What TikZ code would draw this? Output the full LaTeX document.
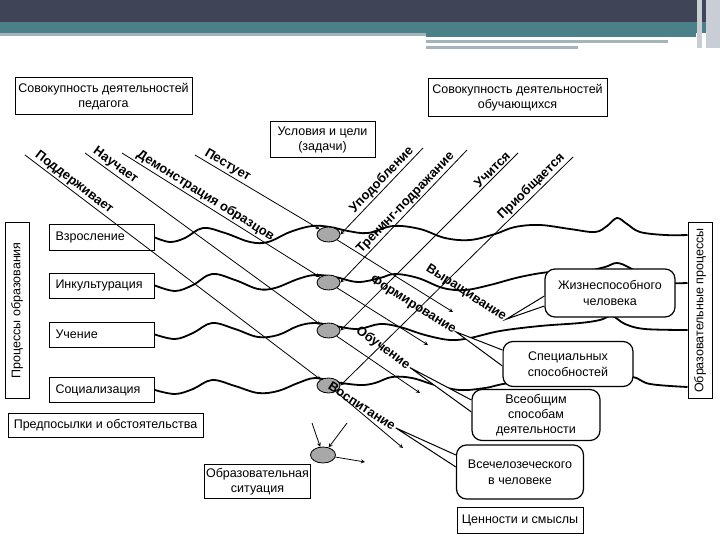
\documentclass[tikz,border=0pt]{standalone}
\usepackage{fontspec}
\setmainfont{Liberation Sans}
\usetikzlibrary{shapes.geometric}
\definecolor{hdrdark}{HTML}{3F4556}
\definecolor{hdrteal}{HTML}{4A8189}
\definecolor{hdrgray}{HTML}{A3B5B9}
\definecolor{hdrlight}{HTML}{C9CDD6}
\definecolor{situgray}{HTML}{A8A8A8}
\begin{document}
\begin{tikzpicture}[x=1pt, y=-1pt, >=stealth,
  box/.style={draw, line width=1pt, fill=white, inner sep=2pt, align=center, font=\fontsize{12.5}{15}\selectfont},
  rbox/.style={box, rounded corners=10pt, line width=1.2pt, font=\fontsize{12.5}{16}\selectfont},
  proc/.style={box, minimum width=105pt, minimum height=25pt, text width=93pt, align=left},
  wave/.style={line width=1.8pt},
  ray/.style={->, line width=0.8pt},
  sit/.style={ellipse, draw, line width=0.8pt, fill=situgray, minimum width=23pt, minimum height=15pt, inner sep=0pt},
  lbl/.style={font=\fontsize{13}{15}\selectfont\bfseries, inner sep=1.5pt},
  tail/.style={draw, fill=white, line width=1pt}]
  \useasboundingbox (0,0) rectangle (720,540);
  % header
  \fill[hdrdark] (0,0) rectangle (720,22);
  \fill[hdrteal] (0,22) rectangle (720,33);
  \fill[hdrgray] (0,33) rectangle (426,36);
  \fill[hdrteal] (426,33) rectangle (696,37);
  \fill[hdrgray] (426,40) rectangle (668,43);
  \fill[hdrgray] (426,46) rectangle (578,49);
  \fill[hdrlight] (697,0) rectangle (702,48);
  \fill[hdrlight] (706,0) rectangle (720,48);
  % boxes
  \node[box, minimum width=177pt, minimum height=37pt] (pedag) at (103.5,96.5) {Совокупность деятельностей\\педагога};
  \node[box, minimum width=105pt, minimum height=36pt] (uslov) at (322.5,140) {Условия и цели\\(задачи)};
  \node[box, minimum width=179pt, minimum height=38pt] (uchen) at (517.5,97.5) {Совокупность деятельностей\\обучающихся};
  \node[box, rotate=90, minimum width=175pt, minimum height=24pt] (procl) at (17,310.5) {Процессы образования};
  \node[box, rotate=90, minimum width=175pt, minimum height=24pt] (procr) at (700,310.5) {Образовательные процессы};
  \foreach \nm/\txt/\yy in {vzr/Взросление/237.5, ink/Инкультурация/285.5, uch/Учение/334.5, soc/Социализация/390}
    \node[proc] (\nm) at (102,\yy) {\txt};
  \node[box, minimum width=195pt, minimum height=24pt] (predp) at (105.5,425) {Предпосылки и обстоятельства};
  \node[box, minimum width=105pt, minimum height=34pt] (situ) at (257.5,481.5) {Образовательная\\ситуация};
  \node[box, minimum width=126pt, minimum height=26pt] (cenn) at (520,520) {Ценности и смыслы};
  % processes
  \draw[wave] plot[smooth, tension=0.6] coordinates {(vzr.east) (170,242) (185,238) (203,228) (225,233) (250,242) (268,242) (290,232) (312,226) (330,227) (348,231) (368,233) (393,226) (420,229) (445,238) (470,240) (495,234) (515,227) (540,225) (570,229) (595,232) (607,226) (617,218) (627,224) (640,232) (665,235) (procr.north |- 0,235)};
  \draw[wave] plot[smooth, tension=0.6] coordinates {(ink.east) (175,291) (193,285) (212,274) (235,280) (258,289) (275,288) (298,279) (315,275) (335,277) (358,282) (380,278) (395,274) (418,278) (443,288) (465,290) (490,285) (520,277) (550,272) (585,271) (605,267) (617,263) (630,268) (650,280) (670,283) (procr.north |- 0,283)};
  \draw[wave] plot[smooth, tension=0.6] coordinates {(uch.east) (175,339) (193,333) (212,323) (235,329) (258,337) (278,335) (298,326) (315,323) (335,326) (358,329) (380,324) (400,327) (425,335) (450,340) (470,338) (500,331) (540,326) (580,323) (600,320) (612,316) (625,324) (645,329) (procr.north |- 0,330)};
  \draw[wave] plot[smooth, tension=0.6] coordinates {(soc.east) (175,394) (193,389) (212,380) (235,386) (258,393) (278,391) (298,383) (315,378) (335,382) (360,385) (375,383) (392,377) (412,378) (435,385) (460,390) (485,388) (510,383) (560,380) (610,378) (633,377) (650,384) (procr.north |- 0,387)};
  % situations
  \foreach \nm/\yy in {e1/234.5, e2/282.5, e3/330.5, e4/385.5}
    \node[sit] (\nm) at (328.5,\yy) {};
  \node[sit, minimum width=25pt, minimum height=16pt] (e5) at (323,455) {};
  % teacher
  \coordinate (t1) at (25,155);
  \coordinate (t2) at (85,153);
  \coordinate (t3) at (122,153);
  \coordinate (t4) at (195,155);
  \draw[ray] (t1) -- node[lbl, sloped, above, pos=0.15] (podd) {Поддерживает} (e4);
  \draw[ray] (t2) -- node[lbl, sloped, above, pos=0.11] (nauch) {Научает} (e3);
  \draw[ray] (t3) -- node[lbl, sloped, above, pos=0.40] (demo) {Демонстрация образцов} (e2);
  \draw[ray] (t4) -- node[lbl, sloped, above, pos=0.23] (pest) {Пестует} (e1);
  % students
  \coordinate (s1) at (423,148);
  \coordinate (s2) at (467,150);
  \coordinate (s3) at (518,153);
  \coordinate (s4) at (573,157);
  \draw[ray] (s1) -- node[lbl, sloped, above, pos=0.43] (upod) {Уподобление} (e1.east);
  \draw[ray] (s2) -- node[lbl, sloped, above, pos=0.44] (tren) {Тренинг-подражание} (e2.east);
  \draw[ray] (s3) -- node[lbl, sloped, above, pos=0.12] (uchit) {Учится} (e3.east);
  \draw[ray] (s4) -- node[lbl, sloped, above, pos=0.155] (priob) {Приобщается} (e4.east);
  % results
  \coordinate (o1) at (453,312);
  \coordinate (o2) at (428,345);
  \coordinate (o3) at (420,393);
  \coordinate (o4) at (403,448);
  \draw[ray] (e1) -- (o1);
  \draw[ray] (e2) -- (o2);
  \draw[ray] (e3) -- (o3);
  \draw[ray] (e4) -- (o4);
  \node[lbl, rotate=-33] (vyr) at (466,293) {Выращивание};
  \node[lbl, rotate=-32] (form) at (413,305) {Формирование};
  \node[lbl, rotate=-36] (obuc) at (383,348) {Обучение};
  \node[lbl, rotate=-33] (vosp) at (362,406) {Воспитание};
  % educational situation
  \coordinate (i1) at (312,423);
  \coordinate (i2) at (347,423);
  \coordinate (o5) at (365,462);
  \draw[ray] (i1) -- (e5);
  \draw[ray] (i2) -- (e5);
  \draw[ray] (e5) -- (o5);
  % goals
  \node[rbox, minimum width=130pt, minimum height=48pt] (zhiz) at (610,293) {Жизнеспособного\\человека};
  \node[rbox, minimum width=130pt, minimum height=45pt] (spec) at (568,364) {Специальных\\способностей};
  \node[rbox, minimum width=128pt, minimum height=51pt, font=\fontsize{12.5}{15}\selectfont] (vseob) at (536,415) {Всеобщим\\способам\\деятельности};
  \node[rbox, minimum width=127pt, minimum height=54pt] (vsech) at (520,472) {Всечелозеческого\\в человеке};
  \draw[tail] ([yshift=-3pt]zhiz.west) -- (vyr.east) -- ([yshift=-13pt]zhiz.west);
  \draw[tail] ([yshift=14pt]spec.west) -- (form.east) -- ([yshift=-2pt]spec.west);
  \draw[tail] ([yshift=15pt]vseob.west) -- (obuc.east) -- ([yshift=3pt]vseob.west);
  \draw[tail] ([yshift=17pt]vsech.west) -- (vosp.east) -- ([yshift=5pt]vsech.west);
\end{tikzpicture}
\end{document}
